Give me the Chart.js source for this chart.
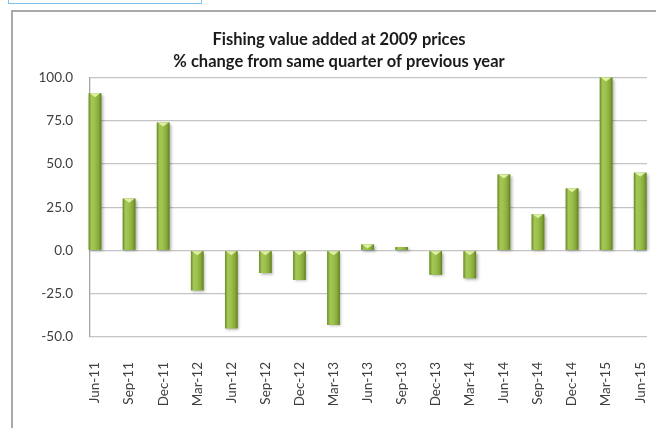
<!DOCTYPE html>
<html>
<head>
<meta charset="utf-8">
<script src="https://cdn.jsdelivr.net/npm/chart.js@4/dist/chart.umd.min.js"></script>
<style>
body{margin:0;background:#fff;overflow:hidden;}
#wrap{position:relative;width:656px;height:428px;}
#frame{position:absolute;left:11px;top:10px;width:700px;height:500px;border-left:2px solid #a9a9a9;border-top:2px solid #a9a9a9;}
#selbox{position:absolute;left:8px;top:-10px;width:192px;height:12px;border:1px solid #7cc3ef;}
canvas{position:absolute;left:0;top:0;}
</style>
</head>
<body>
<div id="wrap">
<div id="frame"></div>
<div id="selbox"></div>
<canvas id="chart" width="656" height="428"></canvas>
</div>
<script>
const quarters = ["Jun-11","Sep-11","Dec-11","Mar-12","Jun-12","Sep-12","Dec-12","Mar-13","Jun-13","Sep-13","Dec-13","Mar-14","Jun-14","Sep-14","Dec-14","Mar-15","Jun-15"];
const pctChange = [91,30,74,-23,-45,-13,-17,-43,3.5,2,-14,-16,44,21,36,100,45];
const titleLines = ["Fishing value added at 2009 prices","% change from same quarter of previous year"];

/* bars get a shaded fill + small bevel on top, like the office chart style */
const barShade = {
  id:"barShade",
  beforeDatasetsDraw(chart){
    const c = chart.ctx;
    c.save();
    c.shadowColor = "rgba(0,0,0,0.35)";
    c.shadowBlur = 3;
    c.shadowOffsetX = 1.5;
    c.shadowOffsetY = 1.5;
  },
  afterDatasetsDraw(chart){
    const c = chart.ctx;
    c.restore();
    const meta = chart.getDatasetMeta(0);
    meta.data.forEach(el=>{
      const p = el.getProps(["x","y","base","width"],true);
      const left = p.x - p.width/2;
      const top = Math.min(p.y,p.base);
      const h = Math.abs(p.base - p.y);
      const g = c.createLinearGradient(left,0,left+p.width,0);
      g.addColorStop(0,"#6a8a28");
      g.addColorStop(0.22,"#a4c858");
      g.addColorStop(0.5,"#9cc04a");
      g.addColorStop(0.8,"#86a83a");
      g.addColorStop(1,"#607e24");
      c.fillStyle = g;
      c.fillRect(left,top,p.width,h);
      if(h > 3){
        c.beginPath();
        c.moveTo(left+1,top);
        c.lineTo(left+p.width-1,top);
        c.lineTo(p.x,top+Math.min(4,h));
        c.closePath();
        c.fillStyle = "rgba(236,248,180,0.85)";
        c.fill();
      }
    });
  }
};

new Chart(document.getElementById("chart"),{
type:"bar",
data:{
datasets:[{
data:pctChange.map((v,i)=>({x:i,y:v})),
backgroundColor:"#8fb340",
categoryPercentage:1,
barPercentage:0.37,
clip:false
}]
},
options:{
responsive:false,
animation:false,
layout:{padding:{left:31,right:9,top:0,bottom:0}},
plugins:{
legend:{display:false},
tooltip:{enabled:false},
title:{
display:true,
text:titleLines,
color:"#1a1a1a",
font:{family:"Lato",size:16.5,weight:"bold",lineHeight:1.32},
padding:{top:29,bottom:5}
}
},
scales:{
x:{
type:"linear",
offset:false,
min:-0.147,
max:16.2,
grid:{display:false},
border:{display:false},
afterFit:s=>{s.height = 91;s.paddingLeft = 0;s.paddingRight = 0;},
ticks:{
stepSize:1,
includeBounds:false,
autoSkip:false,
maxTicksLimit:40,
minRotation:90,
maxRotation:90,
padding:17,
color:"#404040",
font:{family:"Lato",size:13.5},
callback:v=>quarters[v]
}
},
y:{
min:-50,
max:100,
grid:{color:"#c4c4c4",lineWidth:1.3,drawTicks:false},
border:{display:true,color:"#a6a6a6",width:1.3},
afterFit:s=>{s.width = 59;},
ticks:{
stepSize:25,
padding:17,
color:"#404040",
font:{family:"Lato",size:13.5},
callback:v=>v.toFixed(1)
}
}
}
},
plugins:[barShade]
});
</script>
</body>
</html>
